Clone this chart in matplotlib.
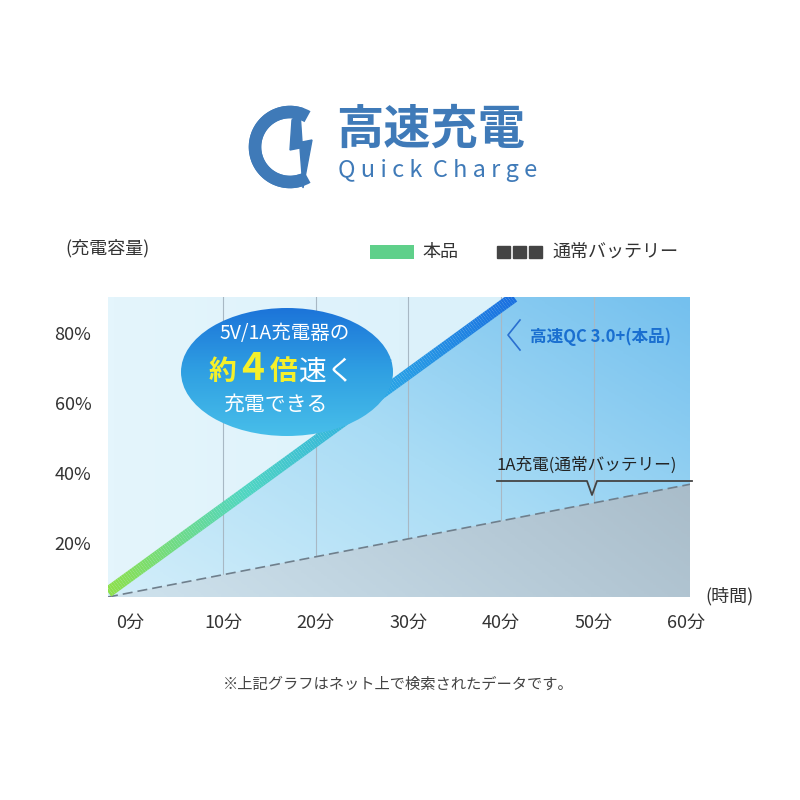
import numpy as np
import matplotlib
matplotlib.use("Agg")
import matplotlib.pyplot as plt
from matplotlib.collections import LineCollection
from matplotlib.patches import Polygon, Ellipse, Arc, Rectangle
from matplotlib.colors import LinearSegmentedColormap

plt.rcParams['font.family'] = ['Noto Sans CJK JP', 'DejaVu Sans']

# data
fast_t = [-2.4, 41.4]
fast_v = [6.0, 90.3]
slow_t = [-2.4, 60.4]
slow_v = [4.6, 36.8]
xticks = [0, 10, 20, 30, 40, 50, 60]
xlabels = ["0分", "10分", "20分", "30分", "40分", "50分", "60分"]
yticks = [20, 40, 60, 80]
ylabels = ["20%", "40%", "60%", "80%"]
xlim = (-2.4, 60.4)
ylim = (4.6, 90.3)

fig = plt.figure(figsize=(8, 8), dpi=100)
fig.patch.set_facecolor("white")
ax = fig.add_axes([108/800, 203/800, 582/800, 300/800])
ax.set_xlim(*xlim); ax.set_ylim(*ylim)

# background
bg = LinearSegmentedColormap.from_list("bg", ["#e4f5fc", "#d6effa"])
ax.imshow(np.linspace(0, 1, 100)[None, :], extent=[*xlim, *ylim], aspect="auto", cmap=bg, zorder=0)

# fill under fast line (extend line to top right)
slope = (fast_v[1]-fast_v[0])/(fast_t[1]-fast_t[0])
poly = [(fast_t[0], ylim[0]), (fast_t[0], fast_v[0]), (fast_t[1], fast_v[1]),
        (xlim[1], ylim[1]), (xlim[1], ylim[0])]
pp = Polygon(poly, closed=True, facecolor="none", edgecolor="none")
ax.add_patch(pp)
gx, gy = np.meshgrid(np.linspace(0, 1, 200), np.linspace(0, 1, 200))
fillc = LinearSegmentedColormap.from_list("f", ["#d3eefa", "#a9dcf5", "#74c0ee"])
im = ax.imshow(0.55*gx + 0.45*gy, origin="lower", extent=[*xlim, *ylim], aspect="auto",
               cmap=fillc, zorder=1)
im.set_clip_path(pp)

for x in xticks[1:-1]:
    ax.axvline(x, color="#a8b8c4", lw=0.8, zorder=2)

# slow fill
spoly = [(slow_t[0], slow_v[0]), (slow_t[1], slow_v[1]), (slow_t[1], ylim[0])]
sp = Polygon(spoly, closed=True, facecolor="none", edgecolor="none")
ax.add_patch(sp)
grc = LinearSegmentedColormap.from_list("g", ["#cfe3ee", "#b5c9d6", "#9db0bd"])
im2 = ax.imshow(0.6*gx + 0.4*gy, origin="lower", extent=[*xlim, *ylim], aspect="auto",
                cmap=grc, zorder=3)
im2.set_clip_path(sp)
ax.plot(slow_t, slow_v, color="#6f7f8c", lw=1.2, ls=(0, (6, 3)), zorder=4)

# fast gradient line
t = np.linspace(fast_t[0], fast_t[1], 200)
v = np.interp(t, fast_t, fast_v)
pts = np.array([t, v]).T.reshape(-1, 1, 2)
segs = np.concatenate([pts[:-1], pts[1:]], axis=1)
lc_cmap = LinearSegmentedColormap.from_list("l", ["#8de04a", "#4fd6c0", "#2aa8e6", "#1a6fe0"])
lc = LineCollection(segs, cmap=lc_cmap, linewidths=8, zorder=5, capstyle="butt")
lc.set_array(np.linspace(0, 1, len(segs)))
ax.add_collection(lc)

ax.set_xticks(xticks); ax.set_xticklabels(xlabels, fontsize=13, color="#333333")
ax.set_yticks(yticks); ax.set_yticklabels(ylabels, fontsize=13, color="#333333")
ax.tick_params(length=0, pad=12)
for s in ax.spines.values():
    s.set_visible(False)

# overlay in pixel coordinates
ov = fig.add_axes([0, 0, 1, 1], zorder=10)
ov.set_xlim(0, 800); ov.set_ylim(800, 0); ov.axis("off")
ov.patch.set_alpha(0)

blue = "#3f7ab8"
ov.add_patch(Arc((290, 147), 70, 70, theta1=-300+360-360, theta2=-70+360-360, lw=9, color=blue))
ov.add_patch(Arc((290, 147), 70, 70, theta1=70, theta2=300, lw=9, color=blue))
ov.add_patch(Polygon([(292, 120), (290, 150), (300, 148), (303, 188), (312, 140), (302, 142), (300, 112)],
                     closed=True, color=blue))
ov.text(336, 130, "高速充電", fontsize=34, fontweight="bold", color=blue, va="center")
ov.text(338, 171, "Quick Charge", fontsize=17, color=blue, va="center")
# fix letter spacing approx
ov.texts[-1].set_text("Q u i c k  C h a r g e")

ov.text(65, 248, "(充電容量)", fontsize=13, color="#333333", va="center")
ov.add_patch(Rectangle((370, 245), 44, 14, facecolor="#5fd08a", edgecolor="none"))
legc = LinearSegmentedColormap.from_list("lg", ["#8de04a", "#2aa8e6"])
li = ov.imshow(np.linspace(0, 1, 50)[None, :], extent=[370, 414, 259, 245], cmap=legc, aspect="auto")
ov.set_xlim(0, 800); ov.set_ylim(800, 0)
ov.text(422, 252, "本品", fontsize=13, color="#333333", va="center")
for i in range(3):
    ov.add_patch(Rectangle((497 + i*16, 246), 13, 12, color="#444444"))
ov.text(552, 252, "通常バッテリー", fontsize=13, color="#333333", va="center")
ov.text(705, 596, "(時間)", fontsize=13, color="#333333", va="center")

# bubble
bc = LinearSegmentedColormap.from_list("b", ["#1a6fd8", "#2f9fe2", "#49c0ea"])
ell = Ellipse((287, 372), 212, 128, facecolor="none", edgecolor="none")
tail = Polygon([(355, 345), (392, 360), (345, 392)], closed=True, facecolor="none", edgecolor="none")
ov.add_patch(ell); ov.add_patch(tail)
for patch in (ell, tail):
    bi = ov.imshow(np.linspace(0, 1, 100)[:, None], extent=[170, 400, 440, 300], cmap=bc,
                   aspect="auto", zorder=11)
    bi.set_clip_path(patch)
ov.set_xlim(0, 800); ov.set_ylim(800, 0)
ov.text(285, 333, "5V/1A充電器の", fontsize=14, color="white", ha="center", va="center", zorder=12)
ov.text(222, 372, "約", fontsize=20, color="#f5f02a", fontweight="bold", ha="center", va="center", zorder=12)
ov.text(253, 369, "4", fontsize=28, color="#f5f02a", fontweight="bold", ha="center", va="center", zorder=12)
ov.text(284, 372, "倍", fontsize=20, color="#f5f02a", fontweight="bold", ha="center", va="center", zorder=12)
ov.text(327, 372, "速く", fontsize=20, color="white", ha="center", va="center", zorder=12)
ov.text(275, 405, "充電できる", fontsize=15, color="white", ha="center", va="center", zorder=12)

ov.plot([520, 508, 520], [320, 335, 350], color="#2a6fd0", lw=1.2, zorder=12)
ov.text(530, 337, "高速QC 3.0+(本品)", fontsize=12, color="#1a6fd0", fontweight="bold", va="center", zorder=12)
ov.text(497, 465, "1A充電(通常バッテリー)", fontsize=12, color="#222222", va="center", zorder=12)
ov.plot([497, 587, 592, 597, 692], [481, 481, 495, 481, 481], color="#444444", lw=1.3, zorder=12)

ov.text(398, 684, "※上記グラフはネット上で検索されたデータです。", fontsize=11, color="#444444",
        ha="center", va="center")

fig.savefig("out.png", dpi=100)
